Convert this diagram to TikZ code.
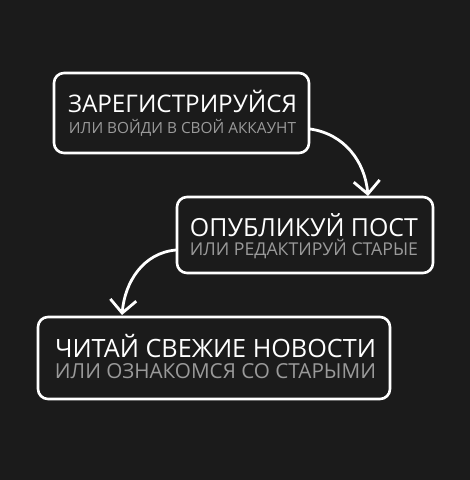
\documentclass[tikz,border=0pt]{standalone}
\usepackage{graphicx}
\usepackage{fontspec}
\setmainfont{Open Sans}
\usetikzlibrary{arrows.meta}
\definecolor{bg}{HTML}{1B1B1B}
\definecolor{subgray}{HTML}{9A9A9A}
\tikzset{
  card/.style={draw=white, line width=2.6pt, rounded corners=10pt, fill=bg, inner sep=0pt},
  ttl/.style={anchor=base, inner sep=0pt, text=white},
  sub/.style={anchor=base, inner sep=0pt, text=subgray},
  flow/.style={draw=white, line width=2.8pt, -{Straight Barb[length=13pt,width=26pt,line width=2.8pt]}},
}
\newcommand{\fitline}[2]{\resizebox{#1pt}{!}{\fontsize{24}{24}\selectfont #2}}
\newcommand{\flatline}[2]{\raisebox{0pt}[\height][0pt]{\fitline{#1}{#2}}}
\begin{document}
\begin{tikzpicture}[x=1pt,y=-1pt]
\fill[bg] (0,0) rectangle (470,480);
\useasboundingbox (0,0) rectangle (470,480);
% cards
\node[card, minimum width=255pt, minimum height=80pt] (b1) at (181.5,113) {};
\node[card, minimum width=256pt, minimum height=76pt] (b2) at (305,235) {};
\node[card, minimum width=352pt, minimum height=82pt] (b3) at (214,358) {};
% texts
\node[ttl] (t1) at (182.5,112) {\flatline{229}{ЗАРЕГИСТРИРУЙСЯ}};
\node[sub] (s1) at (182.5,133) {\fitline{227}{ИЛИ ВОЙДИ В СВОЙ АККАУНТ}};
\node[ttl] (t2) at (304,236) {\flatline{228}{ОПУБЛИКУЙ ПОСТ}};
\node[sub] (s2) at (304,255) {\fitline{228}{ИЛИ РЕДАКТИРУЙ СТАРЫЕ}};
\node[ttl] (t3) at (215.5,357) {\flatline{321}{ЧИТАЙ СВЕЖИЕ НОВОСТИ}};
\node[sub] (s3) at (215.5,378) {\fitline{321}{ИЛИ ОЗНАКОМСЯ СО СТАРЫМИ}};
% connectors
\coordinate (a1s) at (310,129);
\coordinate (a1e) at (368,196);
\coordinate (a2s) at (176,250);
\coordinate (a2e) at (122,315);
\draw[flow] (a1s) to[out=-8,in=95] (a1e);
\draw[flow] (a2s) to[out=185,in=85] (a2e);
\end{tikzpicture}
\end{document}
